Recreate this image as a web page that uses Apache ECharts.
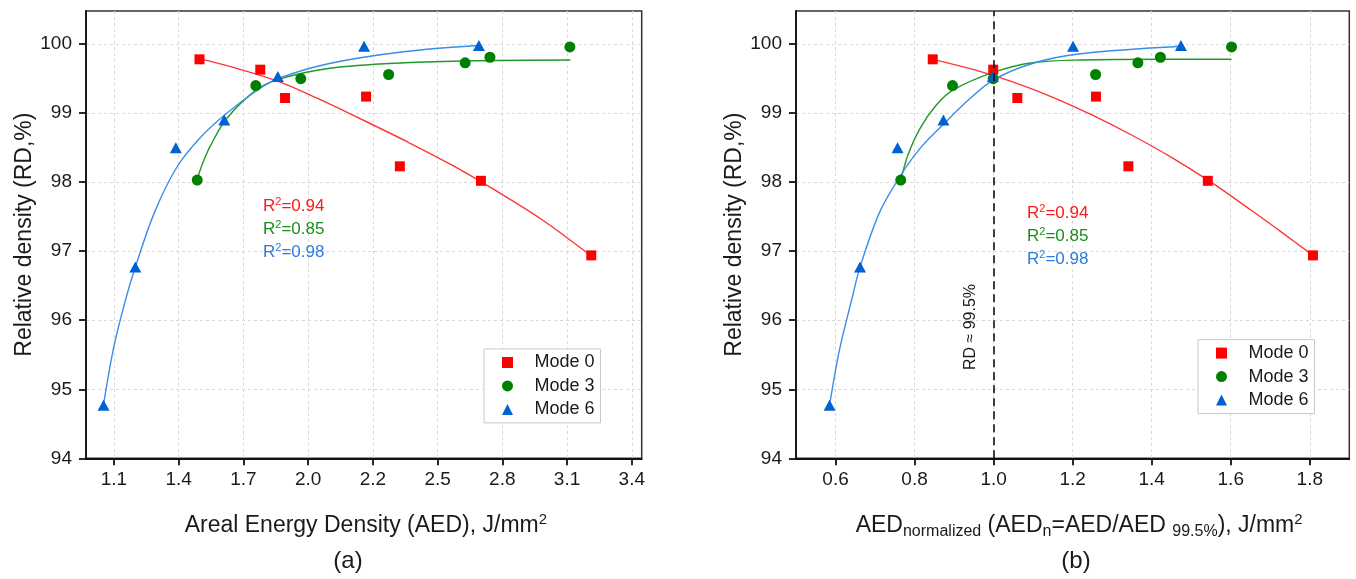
<!DOCTYPE html>
<html><head><meta charset="utf-8">
<script src="https://cdn.jsdelivr.net/npm/echarts@6/dist/echarts.min.js"></script>
<style>html,body{margin:0;padding:0;background:#fff}#c{width:1356px;height:579px}</style>
</head><body><div id="c"></div>
<script>
// ---------- data ----------
const modeNames = ['Mode 0', 'Mode 3', 'Mode 6'];
const rdTicks = [94, 95, 96, 97, 98, 99, 100];
const aedTickValues = [1.1, 1.3875, 1.675, 1.9625, 2.25, 2.5375, 2.825, 3.1125, 3.4];
const aedTickLabels = ['1.1', '1.4', '1.7', '2.0', '2.2', '2.5', '2.8', '3.1', '3.4'];
const aednTickValues = [0.6, 0.8, 1.0, 1.2, 1.4, 1.6, 1.8];
const aednTickLabels = ['0.6', '0.8', '1.0', '1.2', '1.4', '1.6', '1.8'];

// measured points: relative density (same for both panels)
const mode0RD = [99.78, 99.63, 99.22, 99.24, 98.23, 98.02, 96.94];
const mode3RD = [98.03, 99.40, 99.50, 99.56, 99.73, 99.81, 99.96];
const mode6RD = [94.77, 96.77, 98.50, 98.90, 99.53, 99.97, 99.98];
// panel (a): AED
const mode0AED = [1.48, 1.75, 1.86, 2.22, 2.37, 2.73, 3.22];
const mode3AED = [1.47, 1.73, 1.93, 2.32, 2.66, 2.77, 3.125];
const mode6AED = [1.054, 1.195, 1.375, 1.59, 1.828, 2.211, 2.721];
// panel (b): normalized AED
const mode0AEDn = [0.846, 0.999, 1.060, 1.259, 1.341, 1.542, 1.808];
const mode3AEDn = [0.765, 0.896, 0.999, 1.258, 1.365, 1.422, 1.602];
const mode6AEDn = [0.585, 0.662, 0.757, 0.873, 0.998, 1.201, 1.474];

// fitted curves, points
const fit0AED = [1.48, 1.65, 1.83, 2.0, 2.2, 2.4, 2.6, 2.8, 3.0, 3.216];
const fit0RD  = [99.79, 99.645, 99.46, 99.22, 98.91, 98.59, 98.25, 97.87, 97.46, 96.94];
const fit3AED = [1.468, 1.496, 1.529, 1.6, 1.73, 1.83, 2.06, 2.39, 2.72, 3.127];
const fit3RD  = [98.03, 98.29, 98.53, 98.92, 99.33, 99.49, 99.65, 99.73, 99.76, 99.77];
const fit6AED = [1.054, 1.10, 1.152, 1.195, 1.281, 1.38, 1.479, 1.59, 1.727, 1.828, 2.057, 2.387, 2.721];
const fit6RD  = [94.78, 95.62, 96.30, 96.77, 97.57, 98.22, 98.63, 98.97, 99.31, 99.50, 99.72, 99.89, 99.98];

const fit0AEDn = [0.846, 0.95, 1.05, 1.15, 1.25, 1.35, 1.45, 1.55, 1.65, 1.73, 1.808];
const fit0RDn  = [99.78, 99.63, 99.45, 99.23, 98.97, 98.68, 98.36, 98.00, 97.60, 97.27, 96.94];
const fit3AEDn = [0.765, 0.783, 0.814, 0.854, 0.896, 0.999, 1.098, 1.22, 1.424, 1.602];
const fit3RDn  = [98.02, 98.39, 98.78, 99.11, 99.33, 99.59, 99.73, 99.77, 99.78, 99.78];
const fit6AEDn = [0.585, 0.610, 0.641, 0.662, 0.712, 0.765, 0.814, 0.875, 0.936, 0.999, 1.098, 1.22, 1.474];
const fit6RDn  = [94.77, 95.57, 96.30, 96.77, 97.57, 98.10, 98.49, 98.85, 99.19, 99.48, 99.72, 99.86, 99.97];

const r2Values = ['0.94', '0.85', '0.98'];
const thresholdAEDn = 1.0;
const thresholdLabel = 'RD ≈ 99.5%';

// ---------- styling ----------
const FONT = "'Liberation Sans', Arial, Helvetica, sans-serif";
const TXT = '#1a1a1a';
const markerColors = ['#ff0000', '#008000', '#0062d0'];
const lineColors = ['#ff3535', '#23992a', '#3a8ee8'];
const r2Colors = ['#ff1a1a', '#1a8f1a', '#2a7de0'];
const symbols = ['rect', 'circle', 'triangle'];
const symbolSizes = [10, 11, [12, 11]];

const zip = (xs, ys) => xs.map((x, i) => [x, ys[i]]);
const labelFor = (vals, labels) => v => {
  for (let i = 0; i < vals.length; i++) if (Math.abs(vals[i] - v) < 1e-6) return labels[i];
  return '';
};

function xAxis(gi, min, max, vals, labels, name, rich, namePad) {
  return {
    gridIndex: gi, type: 'value', min: min, max: max,
    axisLine: { show: true, onZero: false, lineStyle: { color: '#111', width: 1.8 } },
    axisTick: { show: true, length: 7, customValues: vals, lineStyle: { color: '#111', width: 1.8 } },
    axisLabel: { customValues: vals, formatter: labelFor(vals, labels), fontSize: 19, color: TXT, fontFamily: FONT, margin: 12 },
    splitLine: { show: true, lineStyle: { color: '#d8d8d8', type: [3, 3], width: 1 } },
    name: name, nameLocation: 'middle', nameGap: 54,
    nameTextStyle: { fontSize: 23, color: TXT, fontFamily: FONT, rich: rich, padding: namePad }
  };
}
function yAxis(gi) {
  return {
    gridIndex: gi, type: 'value', min: 94, max: 100.48,
    axisLine: { show: true, onZero: false, lineStyle: { color: '#111', width: 1.8 } },
    axisTick: { show: true, length: 7, customValues: rdTicks, lineStyle: { color: '#111', width: 1.8 } },
    axisLabel: { customValues: rdTicks, formatter: v => String(Math.round(v)), fontSize: 19, color: TXT, fontFamily: FONT, margin: 14 },
    splitLine: { show: true, lineStyle: { color: '#d8d8d8', type: [3, 3], width: 1 } },
    name: 'Relative density (RD,%)', nameLocation: 'middle', nameGap: 50,
    nameTextStyle: { fontSize: 23, color: TXT, fontFamily: FONT }
  };
}
const mainRich = {
  t: { fontSize: 23, color: TXT, fontFamily: FONT, lineHeight: 27, verticalAlign: 'middle' },
  sup: { fontSize: 15, color: TXT, fontFamily: FONT, lineHeight: 12, verticalAlign: 'top' },
  sub: { fontSize: 16, color: TXT, fontFamily: FONT, lineHeight: 12, verticalAlign: 'bottom' }
};

function legend(left, top) {
  return {
    orient: 'vertical', left: left, top: top,
    padding: [4.5, 6, 4.5, 18], itemWidth: 11, itemHeight: 11, itemGap: 5.45,
    selectedMode: false,
    backgroundColor: '#fff', borderColor: '#c8c8c8', borderWidth: 1, borderRadius: 0,
    textStyle: { fontSize: 18, color: TXT, fontFamily: FONT, lineHeight: 18, padding: [0, 0, 0, 16.5] },
    data: modeNames.map((n, i) => ({ name: n, icon: symbols[i] }))
  };
}

const leftSets = [[mode0AED, mode0RD], [mode3AED, mode3RD], [mode6AED, mode6RD]];
const rightSets = [[mode0AEDn, mode0RD], [mode3AEDn, mode3RD], [mode6AEDn, mode6RD]];
const leftFits = [[fit0AED, fit0RD], [fit3AED, fit3RD], [fit6AED, fit6RD]];
const rightFits = [[fit0AEDn, fit0RDn], [fit3AEDn, fit3RDn], [fit6AEDn, fit6RDn]];

const series = [];
[[leftFits, leftSets, 0], [rightFits, rightSets, 1]].forEach(([fits, sets, gi]) => {
  fits.forEach((f, i) => series.push({
    type: 'line', name: 'fit' + gi + '_' + i, xAxisIndex: gi, yAxisIndex: gi,
    data: zip(f[0], f[1]), smooth: 0.35, symbol: 'none', showSymbol: false,
    lineStyle: { color: lineColors[i], width: 1.4 }, silent: true, z: 2
  }));
  sets.forEach((s, i) => series.push({
    type: 'scatter', name: modeNames[i], xAxisIndex: gi, yAxisIndex: gi,
    data: zip(s[0], s[1]), symbol: symbols[i], symbolSize: symbolSizes[i],
    itemStyle: { color: markerColors[i], opacity: 1 }, z: 3, silent: true
  }));
});
// threshold line on panel (b)
series.push({
  type: 'line', name: 'threshold', xAxisIndex: 1, yAxisIndex: 1, data: [], silent: true,
  markLine: {
    silent: true, symbol: ['none', 'none'], animation: false,
    label: { show: false },
    lineStyle: { color: '#111', type: [8, 5], width: 1.6 },
    data: [{ xAxis: thresholdAEDn }]
  }
});

function r2Text(x, y, i) {
  return {
    type: 'text', x: x, y: y, z: 10,
    style: {
      text: '{r|R}{s|2}{r|=' + r2Values[i] + '}',
      fill: r2Colors[i], align: 'left', verticalAlign: 'middle',
      rich: {
        r: { fontSize: 17, fontFamily: FONT, fill: r2Colors[i], lineHeight: 20, verticalAlign: 'middle' },
        s: { fontSize: 11, fontFamily: FONT, fill: r2Colors[i], lineHeight: 10, verticalAlign: 'top' }
      }
    }
  };
}

const option = {
  animation: false,
  backgroundColor: '#fff',
  grid: [
    { left: 86, top: 11, width: 555.7, height: 447.3, show: true, borderColor: '#333', borderWidth: 1.5, backgroundColor: 'transparent', outerBoundsMode: 'none' },
    { left: 796, top: 11, width: 553.3, height: 447.3, show: true, borderColor: '#333', borderWidth: 1.5, backgroundColor: 'transparent', outerBoundsMode: 'none' }
  ],
  xAxis: [
    xAxis(0, 0.976, 3.444, aedTickValues, aedTickLabels, '{t|Areal Energy Density (AED), J/mm}{sup|2}', mainRich, [0, 0, 0, 4]),
    xAxis(1, 0.5, 1.9, aednTickValues, aednTickLabels,
      '{t|AED}{sub|normalized}{t| (AED}{sub|n}{t|=AED/AED }{sub|99.5%}{t|), J/mm}{sup|2}', mainRich, [0, 0, 0, 13])
  ],
  yAxis: [yAxis(0), yAxis(1)],
  legend: [legend(484, 349), legend(1198, 339.6)],
  series: series,
  graphic: [
    r2Text(263, 206, 0), r2Text(263, 229, 1), r2Text(263, 252, 2),
    r2Text(1027, 213, 0), r2Text(1027, 236, 1), r2Text(1027, 259, 2),
    { type: 'text', x: 971, y: 327, rotation: Math.PI / 2, z: 10,
      style: { text: thresholdLabel, fontSize: 16, fontFamily: FONT, fill: TXT, align: 'center', verticalAlign: 'middle' } },
    { type: 'text', x: 348, y: 561, z: 10,
      style: { text: '(a)', fontSize: 24, fontFamily: FONT, fill: TXT, align: 'center', verticalAlign: 'middle' } },
    { type: 'text', x: 1076, y: 561, z: 10,
      style: { text: '(b)', fontSize: 24, fontFamily: FONT, fill: TXT, align: 'center', verticalAlign: 'middle' } }
  ]
};
const chart = echarts.init(document.getElementById('c'), null, { renderer: 'canvas' });
chart.setOption(option);
</script></body></html>
